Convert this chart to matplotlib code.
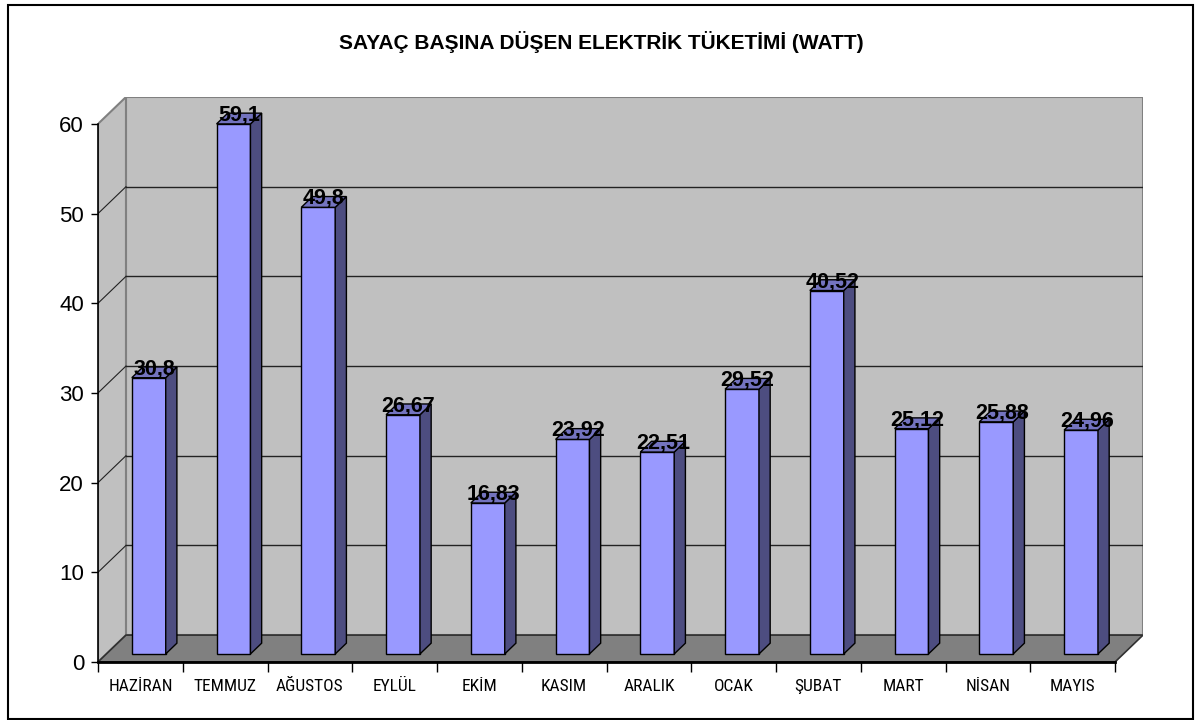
import matplotlib.pyplot as plt
import numpy as np
from matplotlib.patches import Polygon, Rectangle

plt.rcParams['font.family'] = ['Liberation Sans', 'DejaVu Sans']

# veriler
aylar = ['HAZİRAN', 'TEMMUZ', 'AĞUSTOS', 'EYLÜL', 'EKİM', 'KASIM',
         'ARALIK', 'OCAK', 'ŞUBAT', 'MART', 'NİSAN', 'MAYIS']
tuketim = [30.8, 59.1, 49.8, 26.67, 16.83, 23.92, 22.51, 29.52, 40.52, 25.12, 25.88, 24.96]
y_ticks = [0, 10, 20, 30, 40, 50, 60]

# 3B gorunum icin derinlik (veri birimi)
DX, DY = 0.33, 3.0
F0 = 0.3      # cubuk on yuzu derinlik orani
BD = 0.4      # cubuk derinlik orani
W = 0.40      # cubuk genisligi

n = len(aylar)
fig = plt.figure(figsize=(11.98, 7.2), dpi=100)
ax = fig.add_axes([98 / 1198, 58 / 720, (1143 - 98) / 1198, (662 - 97) / 720])
ax.set_xlim(0, n + DX)
ax.set_ylim(0, 60 + DY)
ax.patch.set_visible(False)

# duvarlar ve taban
ax.add_patch(Rectangle((DX, DY), n, 60, fc='#C0C0C0', ec='#808080', lw=1.5, zorder=0))
ax.add_patch(Polygon([(0, 0), (DX, DY), (DX, 60 + DY), (0, 60)],
                     closed=True, fc='#C0C0C0', ec='#808080', lw=1.5, zorder=0))
ax.add_patch(Polygon([(0, 0), (n, 0), (n + DX, DY), (DX, DY)],
                     closed=True, fc='#808080', ec='#303030', lw=1.2, zorder=0.5))

# izgara cizgileri
for v in y_ticks[1:-1]:
    ax.plot([DX, n + DX], [v + DY, v + DY], color='#222222', lw=1, zorder=0.3)
    ax.plot([0, DX], [v, v + DY], color='#222222', lw=0.8, zorder=0.3)

# cubuklar
x_front = np.arange(n) + 0.5 + F0 * DX
y0 = F0 * DY
bdx, bdy = BD * DX, BD * DY
ax.bar(x_front, tuketim, width=W, bottom=y0, color='#9999FF',
       edgecolor='black', lw=1, zorder=3)
for xc, v in zip(x_front, tuketim):
    xl, xr = xc - W / 2, xc + W / 2
    top = y0 + v
    ax.add_patch(Polygon([(xr, y0), (xr + bdx, y0 + bdy), (xr + bdx, top + bdy), (xr, top)],
                         closed=True, fc='#4D4D80', ec='black', lw=1, zorder=3))
    ax.add_patch(Polygon([(xl, top), (xr, top), (xr + bdx, top + bdy), (xl + bdx, top + bdy)],
                         closed=True, fc='#7373BF', ec='black', lw=1, zorder=3))
    ax.text(xc + bdx / 2, top + bdy / 2 + 0.4, f'{v:g}'.replace('.', ','),
            ha='center', va='center', fontsize=15.5, fontweight='bold', zorder=4)

# eksenler
for s in ['top', 'right']:
    ax.spines[s].set_visible(False)
ax.spines['left'].set_bounds(0, 60)
ax.spines['left'].set_linewidth(1.2)
ax.spines['bottom'].set_bounds(0, n)
ax.spines['bottom'].set_linewidth(2)
ax.spines['bottom'].set_zorder(2)
ax.set_yticks(y_ticks)
ax.set_yticklabels([str(t) for t in y_ticks])
ax.tick_params(axis='y', length=5, pad=5, labelsize=16, width=1)
ax.set_xticks(np.arange(n) + 0.5)
ax.set_xticklabels(aylar, fontfamily=['Roboto Condensed', 'Liberation Sans Narrow', 'Liberation Sans'])
ax.set_xticks(np.arange(n + 1), minor=True)
ax.tick_params(axis='x', which='major', length=0, pad=12, labelsize=12.5)
ax.tick_params(axis='x', which='minor', length=7, width=1)

fig.text(0.5017, 1 - 42 / 720, 'SAYAÇ BAŞINA DÜŞEN ELEKTRİK TÜKETİMİ (WATT)',
         ha='center', va='center', fontsize=15, fontweight='bold')

# dis cerceve
fig.patches.append(Rectangle((8 / 1198, 1 / 720), 1185 / 1198, 714 / 720,
                             transform=fig.transFigure, fill=False, ec='black', lw=1.5))

fig.savefig('out.png', dpi=100)
